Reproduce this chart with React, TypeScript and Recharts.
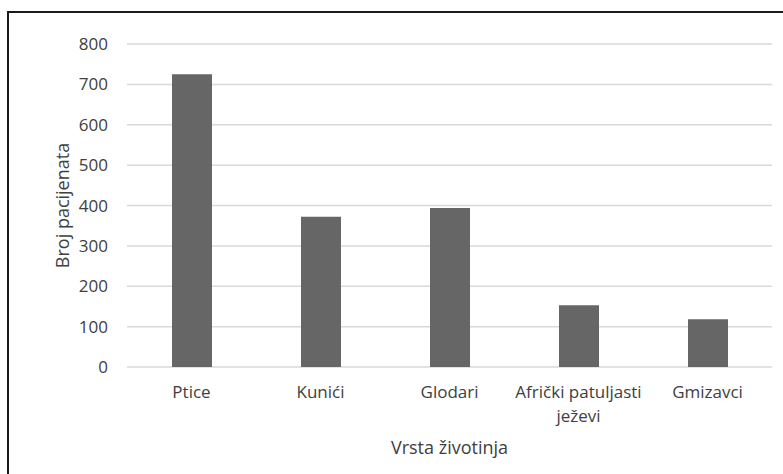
import { BarChart, Bar, XAxis, YAxis, CartesianGrid, Label } from "recharts";

const categories = [
  "Ptice",
  "Kunići",
  "Glodari",
  "Afrički patuljasti ježevi",
  "Gmizavci",
];
const patients = [725, 372, 394, 153, 118];
const yTicks = [0, 100, 200, 300, 400, 500, 600, 700, 800];

const data = categories.map((name, i) => ({ name, count: patients[i] }));

const textColor = "#404040";
const font = "'Open Sans', sans-serif";

// splits long labels over two lines like the original
function CategoryTick({ x, y, payload }: any) {
  const words = String(payload.value).split(" ");
  const lines =
    words.length > 2
      ? [words.slice(0, -1).join(" "), words[words.length - 1]]
      : [payload.value];
  return (
    <text x={x} y={y} textAnchor='middle' fill={textColor} fontSize={17} fontFamily={font}>
      {lines.map((l: string, i: number) => (
        <tspan key={i} x={x} dy={i === 0 ? "0.71em" : 24}>
          {l}
        </tspan>
      ))}
    </text>
  );
}

function App() {
  return (
    <div
      style={{
        position: "absolute",
        left: 0,
        top: 0,
        width: 783,
        height: 474,
        overflow: "hidden",
        background: "#fff",
      }}
    >
      <div
        style={{
          position: "absolute",
          left: 7,
          top: 11,
          width: 800,
          height: 490,
          border: "2px solid #1a1a1a",
        }}
      />
      <div style={{ position: "absolute", left: 0, top: 0 }}>
        <BarChart
          width={783}
          height={474}
          data={data}
          margin={{ top: 44, right: 11, bottom: 47, left: 67 }}
        >
          <CartesianGrid vertical={false} stroke='#d9d9d9' strokeWidth={1.5} />
          <XAxis
            dataKey='name'
            height={60}
            axisLine={false}
            tickLine={false}
            tickSize={0}
            tickMargin={19}
            interval={0}
            tick={<CategoryTick />}
          >
            <Label
              content={({ viewBox }: any) => (
                <text
                  x={viewBox.x + viewBox.width / 2}
                  y={viewBox.y + 87}
                  textAnchor='middle'
                  fill={textColor}
                  fontSize={18}
                  fontFamily={font}
                >
                  Vrsta životinja
                </text>
              )}
            />
          </XAxis>
          <YAxis
            width={60}
            domain={[0, 800]}
            ticks={yTicks}
            axisLine={false}
            tickLine={false}
            tickSize={0}
            tickMargin={19}
            tick={{ fill: textColor, fontSize: 17, fontFamily: font }}
          >
            <Label
              content={({ viewBox }: any) => {
                const cx = viewBox.x - 5;
                const cy = viewBox.y + viewBox.height / 2;
                return (
                  <text
                    x={cx}
                    y={cy}
                    transform={`rotate(-90 ${cx} ${cy})`}
                    textAnchor='middle'
                    dominantBaseline='central'
                    fill={textColor}
                    fontSize={18}
                    fontFamily={font}
                  >
                    Broj pacijenata
                  </text>
                );
              }}
            />
          </YAxis>
          <Bar dataKey='count' fill='#666666' barSize={40} isAnimationActive={false} />
        </BarChart>
      </div>
    </div>
  );
}
export default App;
